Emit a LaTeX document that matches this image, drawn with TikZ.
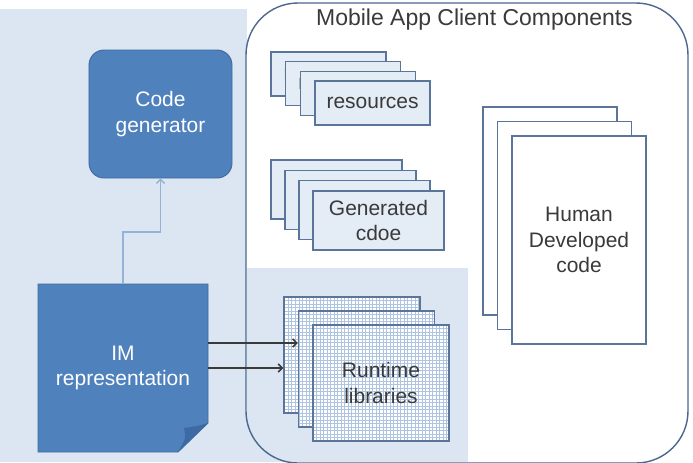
\documentclass[tikz,border=0pt]{standalone}
\usepackage{fontspec}
\setmainfont{Liberation Sans}
\usetikzlibrary{patterns,arrows.meta}

\definecolor{panelblue}{HTML}{DCE6F2}
\definecolor{boxblue}{HTML}{4F81BD}
\definecolor{boxedge}{HTML}{3F6B9F}
\definecolor{foldblue}{HTML}{3D6AA3}
\definecolor{sheetedge}{HTML}{5A7599}
\definecolor{sheetfill}{HTML}{E4ECF6}
\definecolor{gridblue}{HTML}{AEC4E0}
\definecolor{linkblue}{HTML}{95B3D7}
\definecolor{txtgray}{HTML}{3A3A3A}
\definecolor{frameedge}{HTML}{4A6890}

\begin{document}
\begin{tikzpicture}[x=0.03cm, y=-0.03cm, >={Straight Barb[length=3.5pt,width=7pt]},
    lbl/.style={
		% The text:
		font=\fontsize{17.9}{21.5}\selectfont, align=center,
		% No padding
		inner sep=0pt},
    darkbox/.style={lbl, fill=boxblue, draw=boxedge, thick, text=white},
    sheet/.style={lbl, rectangle, draw=sheetedge, line width=1.2pt,
		fill=sheetfill, text=txtgray},
    gridsheet/.style={sheet, preaction={fill=white}, pattern=grid,
		pattern color=gridblue},
    link/.style={draw=linkblue, line width=1.2pt},
    feed/.style={draw=txtgray, line width=1.3pt}]
    \useasboundingbox (0,0) rectangle (693,462);
    \clip (0,0) rectangle (693,462);
    \fill[white] (0,0) rectangle (693,462);

    % background panels and the client frame
    \fill[panelblue] (0,9) rectangle (247,462);
    \fill[white, rounded corners=1.56cm] (246,3) rectangle (688,463);
    \fill[panelblue] (247,268) rectangle (468,462);
    \draw[frameedge, line width=1.2pt, rounded corners=1.56cm] (246,3) rectangle (688,463);
    \node[lbl, font=\fontsize{19.6}{23}\selectfont, text=txtgray] (title) at (474.5,20)
      {Mobile App Client Components};

    % code generator
    \node[darkbox, rounded corners=0.45cm, minimum width=4.29cm,
      minimum height=3.84cm] (cg) at (160.5,114) {Code\\generator};

    % IM representation (note with folded corner)
    \filldraw[fill=boxblue, draw=boxedge, thick]
      (38,284) -- (208,284) -- (208,423) -- (178,452) -- (38,452) -- cycle;
    \fill[foldblue] (208,423) .. controls (198,426) .. (184,428)
      .. controls (186,438) .. (178,452) -- cycle;
    \node[lbl, text=white, minimum width=5.1cm, minimum height=5.04cm]
      (im) at (123,368) {IM\\representation};

    % resources (only the first letter of the hidden labels shows)
    \foreach \i in {0,1,2}{
      \node[sheet, minimum width=3.45cm, minimum height=1.32cm]
        (res\i) at (328.5 + 14.7*\i, 74 + 9.7*\i) {};
      \node[lbl, text=txtgray, anchor=west] (rlet\i) at (283.5 + 14.7*\i, 74 + 9.7*\i) {r};
    }
    \node[sheet, minimum width=3.45cm, minimum height=1.32cm]
      (res3) at (372.6,103.1) {resources};

    % generated code
    \foreach \i in {0,1,2}{
      \node[sheet, minimum width=3.93cm, minimum height=1.77cm]
        (gen\i) at (336.5 + 14*\i, 189.5 + 10.3*\i) {};
    }
    \node[sheet, minimum width=3.93cm, minimum height=1.77cm]
      (gen3) at (378.5,220.5) {Generated\\cdoe};

    % runtime libraries
    \foreach \i in {0,1}{
      \node[gridsheet, minimum width=4.08cm, minimum height=3.48cm]
        (rt\i) at (352 + 14.5*\i, 355 + 14*\i) {};
    }
    \node[gridsheet, minimum width=4.08cm, minimum height=3.48cm]
      (rt2) at (381,383) {Runtime\\libraries};

    % human developed code
    \foreach \i in {0,1}{
      \node[sheet, fill=white, minimum width=4.02cm, minimum height=6.24cm]
        (hum\i) at (550 + 14.5*\i, 211 + 14.5*\i) {};
    }
    \node[sheet, fill=white, minimum width=4.02cm, minimum height=6.24cm]
      (hum2) at (579,240) {Human\\Developed\\code};

    % connectors
    \coordinate (bend) at (123,232);
    \draw[link, ->] (bend |- im.north) -- (bend) -| (cg.south);
    \draw[feed, ->] ([yshift=0.75cm]im.east) -- ([yshift=0.75cm]im.east -| rt1.west);
    \draw[feed, ->] (im.east) -- (im.east -| rt0.west);
\end{tikzpicture}
\end{document}
